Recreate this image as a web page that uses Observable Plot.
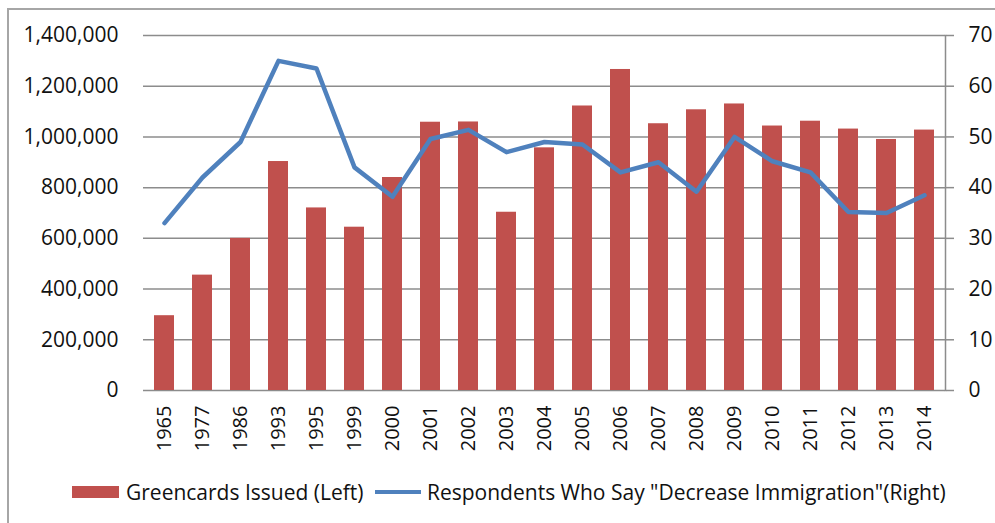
<!DOCTYPE html>
<html>
<head>
<meta charset="utf-8">
<script src="https://cdn.jsdelivr.net/npm/d3@7"></script>
<script src="https://cdn.jsdelivr.net/npm/@observablehq/plot@0.6"></script>
<style>
  html, body { margin: 0; padding: 0; background: #fff; }
  #wrap { position: relative; width: 995px; height: 523px; overflow: hidden; font-family: "Open Sans", sans-serif; }
  #frame { position: absolute; left: 7px; top: 8px; width: 1100px; height: 600px;
           border-left: 2px solid #a6a6a6; border-top: 2px solid #a6a6a6; box-sizing: border-box; }
  #chart { position: absolute; left: 0; top: 0; }
  #legend { position: absolute; left: 0; top: 470px; width: 995px; height: 44px; font-size: 21px; color: #111; }
  .item { position: absolute; top: 7px; display: flex; align-items: center; height: 30px; white-space: nowrap; }
  .sw-bar { width: 47px; height: 12px; background: #C0504D; margin-right: 7px; }
  .sw-line { width: 46px; height: 4px; background: #4F81BD; margin-right: 6px; }
</style>
</head>
<body>
<div id="wrap">
  <div id="frame"></div>
  <div id="chart"></div>
  <div id="legend">
    <div class="item" style="left:72px"><div class="sw-bar"></div><span>Greencards Issued (Left)</span></div>
    <div class="item" style="left:375px"><div class="sw-line"></div><span>Respondents Who Say "Decrease Immigration"(Right)</span></div>
  </div>
</div>
<script>
// Survey years
const years = ["1965","1977","1986","1993","1995","1999","2000","2001","2002","2003","2004",
               "2005","2006","2007","2008","2009","2010","2011","2012","2013","2014"];
// Green cards issued per year (left axis)
const greencards = [295000, 455000, 600000, 903000, 720000, 644000, 840000, 1058000, 1059000, 703000, 957000,
                    1122000, 1266000, 1052000, 1107000, 1130000, 1043000, 1062000, 1031000, 990000, 1027000];
// Percent of respondents saying immigration should be decreased (right axis)
const decreasePct = [33, 42, 49, 65, 63.5, 44, 38.2, 49.6, 51.4, 47, 49,
                     48.5, 43, 45, 39.2, 50, 45.2, 43, 35.2, 35, 38.5];
// Axis ticks
const leftTicks = [0, 200000, 400000, 600000, 800000, 1000000, 1200000, 1400000];
const rightTicks = [0, 10, 20, 30, 40, 50, 60, 70];

// Right axis (0–70) shares the left axis range (0–1,400,000)
const ratio = 1400000 / 70;

const rows = years.map((year, i) => ({year, cards: greencards[i], pct: decreasePct[i]}));
const grid = "#8c8c8c";

const chart = Plot.plot({
  width: 995,
  height: 470,
  marginLeft: 143,
  marginRight: 50,
  marginTop: 35,
  marginBottom: 80,
  style: {fontFamily: "Open Sans, sans-serif", fontSize: "21px", color: "#111", background: "transparent", overflow: "visible"},
  x: {type: "band", domain: years, paddingInner: 0.47, paddingOuter: 0.235, label: null},
  y: {domain: [0, 1400000], label: null},
  marks: [
    Plot.ruleY(leftTicks, {stroke: grid, strokeWidth: 1.5}),
    Plot.axisY(leftTicks, {anchor: "left", tickSize: 0, tickPadding: 25, tickFormat: d3.format(","), label: null}),
    Plot.axisY(rightTicks.map(v => v * ratio), {anchor: "right", tickSize: 8, tickPadding: 15, stroke: grid, strokeWidth: 1.5,
      tickFormat: d => String(Math.round(d / ratio)), label: null}),
    Plot.frame({anchor: "right", stroke: grid, strokeWidth: 1.5}),
    Plot.barY(rows, {x: "year", y: "cards", fill: "#C0504D"}),
    Plot.line(rows, {x: "year", y: d => d.pct * ratio, stroke: "#4F81BD", strokeWidth: 4.5, strokeLinejoin: "round"}),
    Plot.axisX({tickRotate: -90, tickSize: 0, tickPadding: 15, label: null, fontSize: 20})
  ]
});
document.getElementById("chart").append(chart);
</script>
</body>
</html>
